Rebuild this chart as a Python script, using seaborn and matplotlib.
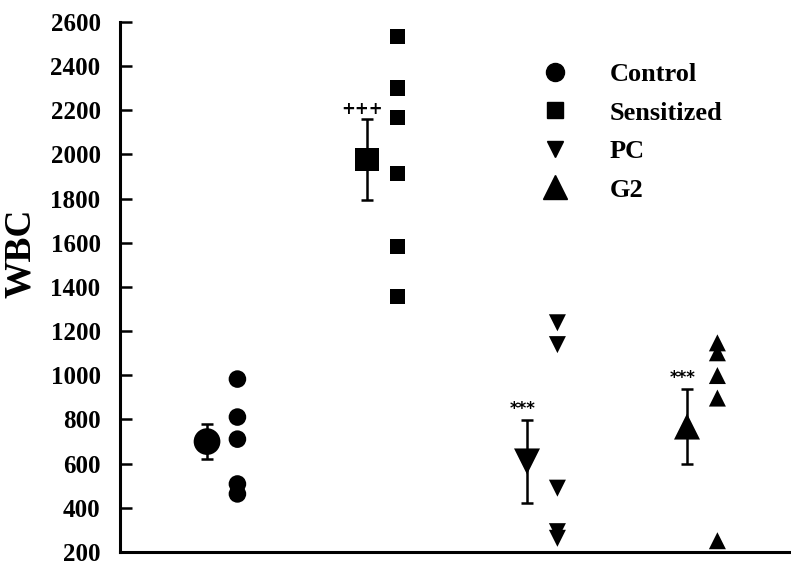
import numpy as np
import pandas as pd
import matplotlib.pyplot as plt
import seaborn as sns
from matplotlib.lines import Line2D

# individual values per group
control = [983, 811, 711, 508, 463]
sensitized = [2535, 2301, 2168, 1914, 1585, 1358]
pc = [1238, 1139, 489, 292, 262]
g2 = [1147, 1102, 999, 897, 251]

groups = ['Control', 'Sensitized', 'PC', 'G2']
means = [700, 1977, 610, 768]
sems = [78, 183, 188, 170]
signs = ['', '+++', '***', '***']
markers = {'Control': 'o', 'Sensitized': 's', 'PC': 'v', 'G2': '^'}
yticks = list(range(200, 2601, 200))

sns.set_style('ticks')
plt.rcParams['font.family'] = ['Liberation Serif', 'DejaVu Serif']
plt.rcParams['font.weight'] = 'bold'
for k in ['text.color', 'axes.labelcolor', 'xtick.color', 'ytick.color',
          'axes.edgecolor']:
    plt.rcParams[k] = 'black'

rows = []
for i, (g, vals) in enumerate(zip(groups, [control, sensitized, pc, g2])):
    for v in vals:
        rows.append({'group': g, 'x': i + 0.19, 'WBC': v})
df = pd.DataFrame(rows)
mdf = pd.DataFrame({'group': groups, 'x': np.arange(4), 'WBC': means})

fig = plt.figure(figsize=(7.91, 5.64), dpi=100)
ax = fig.add_axes([0.1517, 0.0213, 0.8483, 0.9397])

sizes_small = {'Control': 160, 'Sensitized': 120, 'PC': 150, 'G2': 150}
for g in groups:
    d = df[df['group'] == g]
    sns.scatterplot(data=d, x='x', y='WBC', marker=markers[g], color='black',
                    s=sizes_small[g], edgecolor='none', ax=ax, clip_on=False,
                    zorder=3)

ax.errorbar(mdf['x'], mdf['WBC'], yerr=sems, fmt='none', ecolor='black',
            elinewidth=1.8, capsize=4, capthick=1.8, zorder=2)
sizes_big = {'Control': 370, 'Sensitized': 280, 'PC': 350, 'G2': 350}
for g in groups:
    d = mdf[mdf['group'] == g]
    sns.scatterplot(data=d, x='x', y='WBC', marker=markers[g], color='black',
                    s=sizes_big[g], edgecolor='none', ax=ax, zorder=4)

# significance marks above the error bars
for i in range(4):
    if signs[i]:
        ax.annotate(signs[i], (i - 0.03, means[i] + sems[i]), xytext=(0, 4),
                    textcoords='offset points', ha='center', va='baseline',
                    fontsize=12, fontweight='bold', family='DejaVu Sans')

ax.set_xlim(-0.544, 3.65)
ax.set_ylim(200, 2600)
ax.set_yticks(yticks)
ax.set_yticklabels([str(t) for t in yticks])
ax.set_xticks([])
ax.set_xlabel('')
ax.set_ylabel('WBC', fontsize=27, fontweight='bold')
ax.yaxis.set_label_coords(-0.122, 0.564)
ax.tick_params(axis='y', direction='in', length=8.5, width=1.8, pad=14,
               labelsize=18)
for lab in ax.get_yticklabels():
    lab.set_fontweight('bold')
sns.despine(ax=ax)
ax.spines['left'].set_linewidth(2.2)
ax.spines['bottom'].set_linewidth(2.2)

handles = [Line2D([], [], marker=markers[g], color='black', linestyle='none',
                  markersize=ms) for g, ms in zip(groups, [13, 11, 11, 17])]
fig.legend(handles, groups, loc='upper left', bbox_to_anchor=(0.668, 0.889),
           frameon=False, borderpad=0, borderaxespad=0, handlelength=2,
           handletextpad=1.08, labelspacing=0.57,
           prop={'size': 19, 'weight': 'bold'})

fig.savefig('out.png', dpi=100)
